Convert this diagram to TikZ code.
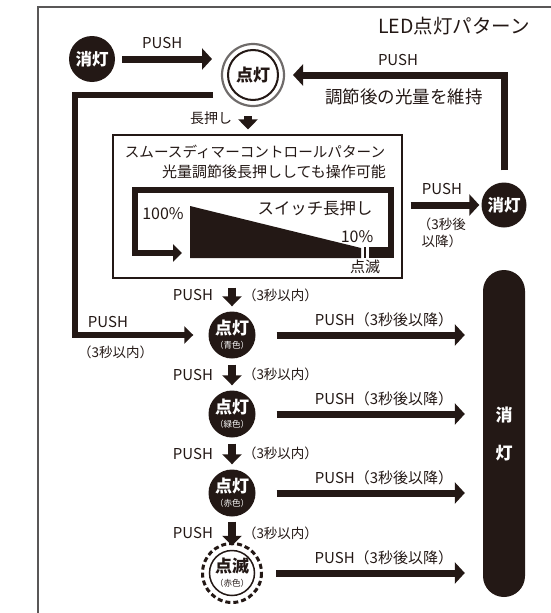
\documentclass[tikz,border=0pt]{standalone}
\usepackage{fontspec}
\setmainfont{Noto Sans CJK JP}
\usetikzlibrary{arrows.meta,calc}
\definecolor{ink}{HTML}{231815}
\definecolor{framegray}{HTML}{595757}
\definecolor{ringgray}{HTML}{6f6b6a}
\begin{document}
\begin{tikzpicture}[x=1pt,y=-1pt,
  every node/.style={text=ink,inner sep=0pt,font=\fontsize{14}{16}\selectfont},
  fatarrow/.style={draw=ink,line width=7pt,-{Triangle[length=10pt,width=21pt]}},
  downarrow/.style={draw=ink,line width=8pt,-{Triangle[length=10pt,width=19pt]}},
  looparrow/.style={draw=ink,line width=6pt,-{Triangle[length=9pt,width=17pt]}},
  offdot/.style={circle,fill=ink,text=white,minimum size=#1,font=\bfseries\fontsize{16.5}{17}\selectfont},
  ondot/.style={circle,fill=ink,text=white,minimum size=47pt,align=center,font=\bfseries\fontsize{17}{15}\selectfont},
  stagelbl/.style={font=\fontsize{15}{16}\selectfont},
  smallparen/.style={font=\fontsize{13.5}{15}\selectfont}
]
\useasboundingbox (0,0) rectangle (551,613);
% frame
\draw[framegray,line width=1.6pt] (38,613) -- (38,7) -- (551,7);
\node[anchor=east,font=\fontsize{19.5}{22}\selectfont] (title) at (530,26) {LED点灯パターン};

% top row
\node[offdot=46pt] (off1) at (92,59) {消灯};
\node[circle,draw=ink,line width=2pt,fill=white,minimum size=50pt,font=\bfseries\fontsize{17}{17}\selectfont] (on1) at (253,75) {点灯};
\draw[ringgray,line width=2.2pt] (on1.center) circle (31);
\draw[fatarrow,shorten <=7pt,shorten >=15pt] (off1) -- (off1 -| on1.west)
  node[above=7pt,pos=0.42,stagelbl] {PUSH};

% smooth dimmer box
\node[draw=ink,line width=1.2pt,minimum width=289pt,minimum height=143pt] (dimbox) at (257.5,206.5) {};
\draw[downarrow,shorten <=15pt,shorten >=5pt] ([xshift=-5pt]on1.south) -- ([xshift=-5pt]on1.south |- dimbox.north)
  node[midway,left=12pt] {長押し};
\node[font=\fontsize{14.6}{16}\selectfont] (dimtitle) at (255,152) {スムースディマーコントロールパターン};
\node[anchor=east,font=\fontsize{15}{16}\selectfont] (dimnote) at (386,172) {光量調節後長押ししても操作可能};
\fill[ink] (190,206) -- (361,248) -- (361,258) -- (190,258) -- cycle;
\fill[ink] (363.5,247) rectangle (366,258);
\fill[ink] (369,247) rectangle (394,258);
\draw[looparrow] (391,249) |- (135,190) |- (182,253);
\node[font=\fontsize{16}{18}\selectfont] (full) at (163,214) {100\%};
\node[font=\fontsize{16.4}{18}\selectfont] (press) at (315,208) {スイッチ長押し};
\node[font=\fontsize{16}{18}\selectfont] (low) at (357,237) {10\%};
\node[font=\fontsize{15}{16}\selectfont] (blinklbl) at (365,267) {点滅};

% right off
\node[offdot=45pt] (off2) at (504,205) {消灯};
\draw[fatarrow,shorten <=8pt,shorten >=2pt] (dimbox.east |- off2) -- (off2)
  node[above=7pt,midway,stagelbl] {PUSH}
  node[below=9pt,midway,align=center,font=\fontsize{13.5}{17}\selectfont] {（3秒後\\以降）};
\draw[fatarrow,shorten <=12pt,shorten >=14pt] (off2) |- (on1);
\node[stagelbl] (pushback) at (398,60) {PUSH};
\node[font=\fontsize{17.5}{19}\selectfont] (keep) at (404,97) {調節後の光量を維持};

% stages
\node[ondot] (c1) at (232,335) {点灯\\[-1pt]{\mdseries\fontsize{8.5}{9}\selectfont（青色）}};
\node[ondot] (c2) at (232,414) {点灯\\[-1pt]{\mdseries\fontsize{8.5}{9}\selectfont（緑色）}};
\node[ondot] (c3) at (232,493) {点灯\\[-1pt]{\mdseries\fontsize{8.5}{9}\selectfont（赤色）}};
\node[circle,draw=ink,line width=1.5pt,fill=white,minimum size=45pt,align=center,font=\bfseries\fontsize{17}{15}\selectfont] (c4) at (232,573) {点滅\\[-1pt]{\mdseries\fontsize{8.5}{9}\selectfont（赤色）}};
\draw[ink,line width=3pt,dash pattern=on 5pt off 3pt] (c4.center) circle (29.5);

\node[fill=ink,rounded corners=21pt,minimum width=42pt,minimum height=327pt,text=white,align=center,font=\bfseries\fontsize{17}{38}\selectfont] (offbar) at (504,433.5) {消\\灯};

% long press loop to blue
\coordinate (loopstart) at (213,95);
\coordinate (loopcorner) at (75,95);
\draw[looparrow,shorten >=15pt] (loopstart) -- (loopcorner) |- (c1);
\node[stagelbl] (pushleft) at (108,322) {PUSH};
\node[smallparen,anchor=west] (withinleft) at (78,352) {（3秒以内）};

% down arrows
\draw[downarrow,shorten <=9pt,shorten >=5pt] (dimbox.south -| c1) -- (c1)
  node[midway,left=15pt,stagelbl] {PUSH} node[midway,right=7pt,smallparen] {（3秒以内）};
\draw[downarrow,shorten <=6pt,shorten >=5pt] (c1) -- (c2)
  node[midway,left=15pt,stagelbl] {PUSH} node[midway,right=7pt,smallparen] {（3秒以内）};
\draw[downarrow,shorten <=6pt,shorten >=5pt] (c2) -- (c3)
  node[midway,left=15pt,stagelbl] {PUSH} node[midway,right=7pt,smallparen] {（3秒以内）};
\draw[downarrow,shorten <=5pt,shorten >=4pt] (c3) -- (c4)
  node[midway,left=15pt,stagelbl] {PUSH} node[midway,right=7pt,smallparen] {（3秒以内）};

% to off bar
\foreach \c in {c1,c2,c3,c4}
  \draw[fatarrow,shorten <=21pt,shorten >=18pt] (\c) -- (\c -| offbar.west)
    node[above=5pt,pos=0.565,stagelbl] {PUSH（3秒後以降）};
\end{tikzpicture}
\end{document}
